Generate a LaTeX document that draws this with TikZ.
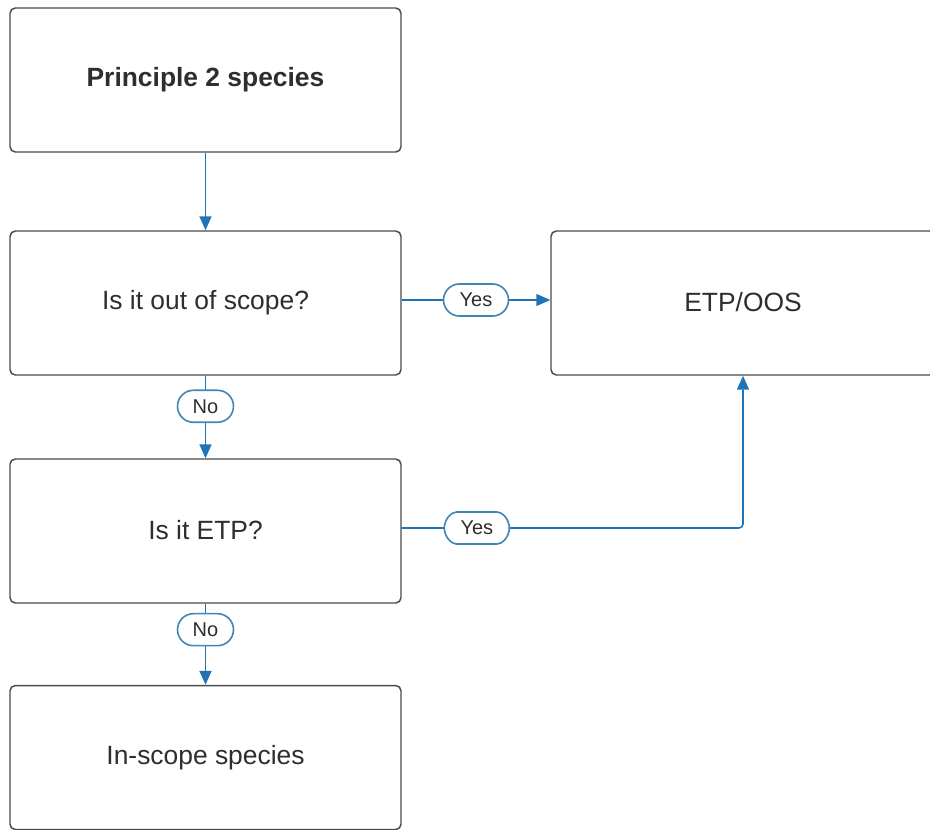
\documentclass[tikz,border=0pt]{standalone}
\usepackage{fontspec}
\setmainfont{Liberation Sans}
\usetikzlibrary{arrows.meta,shapes.misc}
\definecolor{flowblue}{HTML}{1F74B8}
\definecolor{pillblue}{HTML}{3F86B4}
\definecolor{boxgray}{HTML}{4A4A4A}
\definecolor{textgray}{HTML}{2E2E2E}
\begin{document}
\begin{tikzpicture}[x=0.75pt,y=-0.75pt,
  stepbox/.style={draw=boxgray, line width=1.1pt, rounded corners=4pt, fill=white,
    minimum width=293.25pt, minimum height=108pt, inner sep=0pt,
    text=textgray, font=\fontsize{19.8}{24}\selectfont},
  pill/.style={rounded rectangle, draw=pillblue, line width=1.2pt, fill=white,
    minimum height=24pt, inner sep=0pt, text=textgray,
    font=\fontsize{15}{17}\selectfont},
  flow/.style={draw=flowblue, line width=1.2pt,
    -{Triangle[length=10.5pt,width=9pt]}}
]
\path[use as bounding box] (0,0) rectangle (930,829);
\clip (0,0) rectangle (930,829);

\node[stepbox] (start) at (205.5,80) {\raisebox{2pt}{\textbf{Principle 2 species}}};
\node[stepbox] (scope) at (205.5,303) {\raisebox{2pt}{Is it out of scope?}};
\node[stepbox] (etp) at (205.5,531) {\raisebox{2pt}{Is it ETP?}};
\node[stepbox] (inscope) at (205.5,757.5) {In-scope species};
\node[stepbox, minimum width=288pt] (oos) at (743,303) {\raisebox{2pt}{ETP/OOS}};

\draw[flow] (start) -- (scope);
\draw[flow] ([yshift=2.25pt]scope.east) -- node[pill, minimum width=48.75pt] {Yes} ([yshift=2.25pt]oos.west);
\draw[flow] (scope) -- node[pill, pos=0.37, minimum width=42pt] {No} (etp);
\draw[flow, rounded corners=3pt] ([yshift=2.25pt]etp.east) -| node[pill, pos=0.11, minimum width=48.75pt] {Yes} (oos.south);
\draw[flow] (etp) -- node[pill, pos=0.32, minimum width=42pt] {No} (inscope);
\end{tikzpicture}
\end{document}
